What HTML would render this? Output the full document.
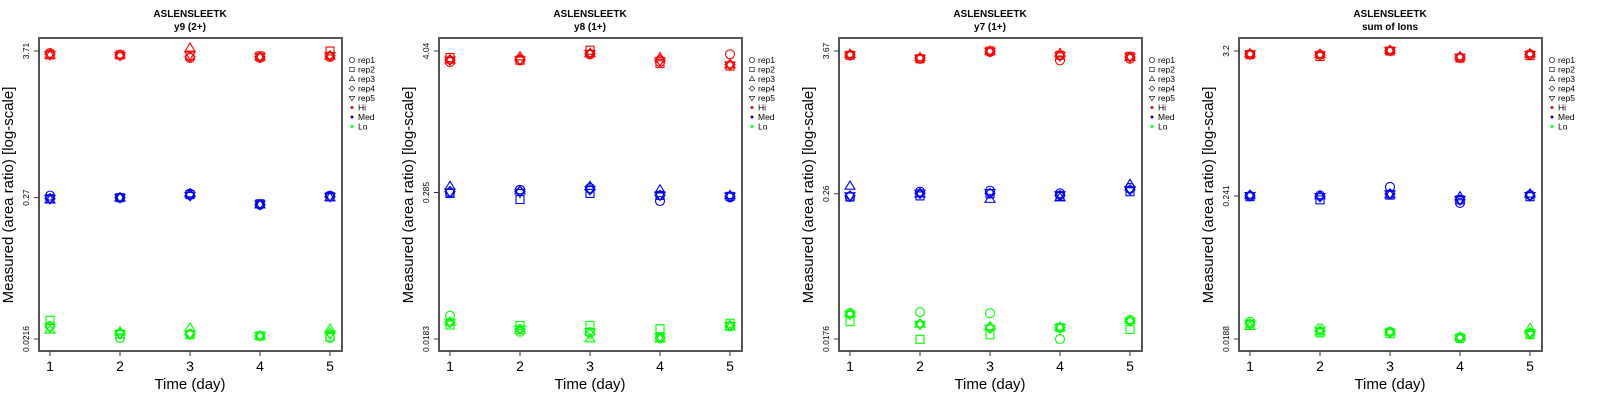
<!DOCTYPE html>
<html><head><meta charset="utf-8"><style>
html,body{margin:0;padding:0;background:#fff;width:1600px;height:400px;overflow:hidden}
svg{display:block;font-family:"Liberation Sans",sans-serif}
</style></head><body>
<svg id="chart" width="1600" height="400"></svg>
<script>
const days=[1,2,3,4,5];
const panelTitles=["y9 (2+)","y8 (1+)","y7 (1+)","sum of Ions"];
const peptide="ASLENSLEETK";
const tickHi=[3.71,4.04,3.67,3.2];
const tickMid=[0.27,0.285,0.26,0.241];
const tickLo=[0.0216,0.0183,0.0176,0.0188];
const repNames=["rep1","rep2","rep3","rep4","rep5"];
const levelNames=["Hi","Med","Lo"];
const levelColors=["#ff0000","#0000ff","#00ff00"];
// panel 1
const p1Hi=[[3.58,3.46,3.28,3.28,3.34],[3.46,3.46,3.40,3.40,3.71],[3.46,3.46,3.91,3.34,3.40],[3.52,3.46,3.34,3.34,3.40],[3.46,3.40,3.46,3.34,3.40]];
const p1Med=[[0.280,0.270,0.290,0.238,0.280],[0.265,0.270,0.285,0.242,0.275],[0.260,0.270,0.290,0.238,0.270],[0.265,0.270,0.280,0.238,0.275],[0.265,0.270,0.280,0.240,0.275]];
const p1Lo=[[0.0272,0.0220,0.0236,0.0228,0.0220],[0.0302,0.0236,0.0233,0.0228,0.0224],[0.0254,0.0245,0.0263,0.0228,0.0258],[0.0270,0.0238,0.0236,0.0228,0.0240],[0.0265,0.0236,0.0236,0.0228,0.0236]];
// panel 2
const p2Hi=[[3.29,3.40,3.80,3.29,3.80],[3.57,3.40,4.10,3.19,3.05],[3.42,3.63,3.85,3.57,3.13],[3.42,3.45,3.85,3.40,3.13],[3.40,3.40,3.85,3.35,3.10]];
const p2Med=[[0.285,0.300,0.310,0.243,0.260],[0.280,0.250,0.280,0.270,0.265],[0.320,0.295,0.320,0.300,0.270],[0.290,0.290,0.300,0.270,0.265],[0.285,0.285,0.300,0.270,0.265]];
const p2Lo=[[0.0283,0.0210,0.0208,0.0186,0.0232],[0.0238,0.0236,0.0236,0.0222,0.0246],[0.0252,0.0215,0.0184,0.0184,0.0230],[0.0250,0.0220,0.0200,0.0186,0.0235],[0.0250,0.0220,0.0210,0.0190,0.0235]];
// panel 3
const p3Hi=[[3.39,3.18,3.61,3.09,3.18],[3.39,3.18,3.67,3.39,3.32],[3.45,3.25,3.67,3.50,3.28],[3.42,3.22,3.64,3.35,3.28],[3.40,3.20,3.64,3.35,3.28]];
const p3Med=[[0.245,0.270,0.275,0.262,0.290],[0.245,0.250,0.260,0.248,0.270],[0.300,0.260,0.235,0.242,0.310],[0.250,0.262,0.262,0.252,0.280],[0.250,0.262,0.265,0.255,0.280]];
const p3Lo=[[0.0284,0.0290,0.0284,0.0176,0.0250],[0.0243,0.0175,0.0190,0.0217,0.0210],[0.0284,0.0232,0.0222,0.0219,0.0248],[0.0280,0.0232,0.0215,0.0217,0.0245],[0.0278,0.0230,0.0215,0.0217,0.0245]];
// panel 4
const p4Hi=[[3.02,3.00,3.20,2.84,3.02],[3.00,2.90,3.20,2.82,2.95],[3.05,3.02,3.25,2.90,3.05],[3.02,2.98,3.22,2.86,3.00],[3.02,2.98,3.22,2.86,3.00]];
const p4Med=[[0.241,0.243,0.283,0.213,0.245],[0.238,0.225,0.245,0.225,0.238],[0.245,0.243,0.247,0.238,0.250],[0.242,0.238,0.250,0.225,0.242],[0.242,0.238,0.250,0.225,0.242]];
const p4Lo=[[0.0256,0.0227,0.0214,0.0194,0.0207],[0.0246,0.0210,0.0207,0.0190,0.0203],[0.0236,0.0214,0.0214,0.0194,0.0227],[0.0246,0.0217,0.0212,0.0192,0.0210],[0.0246,0.0217,0.0212,0.0192,0.0210]];
const panelData=[[p1Hi,p1Med,p1Lo],[p2Hi,p2Med,p2Lo],[p3Hi,p3Med,p3Lo],[p4Hi,p4Med,p4Lo]];

const NS="http://www.w3.org/2000/svg";
const svg=document.getElementById('chart');
function mk(tag,attrs,parent){const e=document.createElementNS(NS,tag);for(const k in attrs)e.setAttribute(k,attrs[k]);(parent||svg).appendChild(e);return e;}
function marker(g,shape,cx,cy,col){
  const s=4.5;let e;
  if(shape===0)e=mk('circle',{cx:cx,cy:cy,r:s,fill:'none',stroke:col,'stroke-width':1.1},g);
  else if(shape===1)e=mk('rect',{x:cx-s+0.5,y:cy-s+0.5,width:2*s-1,height:2*s-1,fill:'none',stroke:col,'stroke-width':1.1},g);
  else if(shape===2)e=mk('polygon',{points:`${cx},${cy-s-0.5} ${cx+s+0.5},${cy+s*0.7} ${cx-s-0.5},${cy+s*0.7}`,fill:'none',stroke:col,'stroke-width':1.1},g);
  else if(shape===3)e=mk('polygon',{points:`${cx},${cy-s-0.5} ${cx+s+0.5},${cy} ${cx},${cy+s+0.5} ${cx-s-0.5},${cy}`,fill:'none',stroke:col,'stroke-width':1.1},g);
  else e=mk('polygon',{points:`${cx},${cy+s+0.5} ${cx+s+0.5},${cy-s*0.7} ${cx-s-0.5},${cy-s*0.7}`,fill:'none',stroke:col,'stroke-width':1.1},g);
  return e;
}
const boxL=39,boxR=342,boxT=38,boxB=351,yTop=51,yBot=339,x1=50,x5=330;
for(let p=0;p<4;p++){
  const ox=p*400;
  const g=mk('g',{transform:`translate(${ox},0)`});
  
  
  const lh=Math.log10(tickHi[p]),ll=Math.log10(tickLo[p]);
  const yS=v=>yTop+(lh-Math.log10(v))/(lh-ll)*(yBot-yTop);
  const xS=d=>x1+(d-1)*(x5-x1)/4;
  const t1=mk('text',{x:190,y:17,'text-anchor':'middle','font-size':10,'font-weight':'bold'},g);t1.textContent=peptide;
  
  const t2=mk('text',{x:190,y:30,'text-anchor':'middle','font-size':10,'font-weight':'bold'},g);t2.textContent=panelTitles[p];
  
  const box=mk('rect',{x:boxL,y:boxT,width:boxR-boxL,height:boxB-boxT,fill:'none',stroke:'#555','stroke-width':2},g);
  
  [tickHi[p],tickMid[p],tickLo[p]].forEach(v=>{
    const y=yS(v);
    mk('line',{x1:boxL-5,x2:boxL,y1:y,y2:y,stroke:'#333','stroke-width':1},g);
    const t=mk('text',{x:0,y:0,'font-size':8.5,'text-anchor':'middle',transform:`translate(${boxL-10},${y}) rotate(-90)`},g);
    t.textContent=String(v);
    
  });
  days.forEach(d=>{
    const x=xS(d);
    mk('line',{x1:x,x2:x,y1:boxB,y2:boxB+5,stroke:'#333','stroke-width':1},g);
    const t=mk('text',{x:x,y:371,'font-size':14,'text-anchor':'middle'},g);t.textContent=d;
    
  });
  const xt=mk('text',{x:190,y:389,'font-size':15,'text-anchor':'middle'},g);xt.textContent="Time (day)";
  
  const yt=mk('text',{x:0,y:0,'font-size':15,'text-anchor':'middle',transform:`translate(13,195) rotate(-90)`},g);yt.textContent="Measured (area ratio) [log-scale]";
  
  panelData[p].forEach((lev,li)=>{
    lev.forEach((rep,ri)=>{
      rep.forEach((v,di)=>{
        const m=marker(g,ri,xS(days[di]),yS(v),levelColors[li]);
        
        
      });
    });
  });
  const lg=mk('g',{},g);
  
  const labels=repNames.concat(levelNames);
  labels.forEach((lab,i)=>{
    const y=60+i*9.5;
    if(i<5){const m=marker(lg,i,352,y,'#000');m.setAttribute('transform',`translate(352,${y}) scale(0.55) translate(-352,${-y})`);}
    else mk('circle',{cx:352,cy:y,r:1.5,fill:levelColors[i-5]},lg);
    const t=mk('text',{x:358,y:y+3,'font-size':8.5},lg);t.textContent=lab;
    
  });
}
</script>
</body></html>
